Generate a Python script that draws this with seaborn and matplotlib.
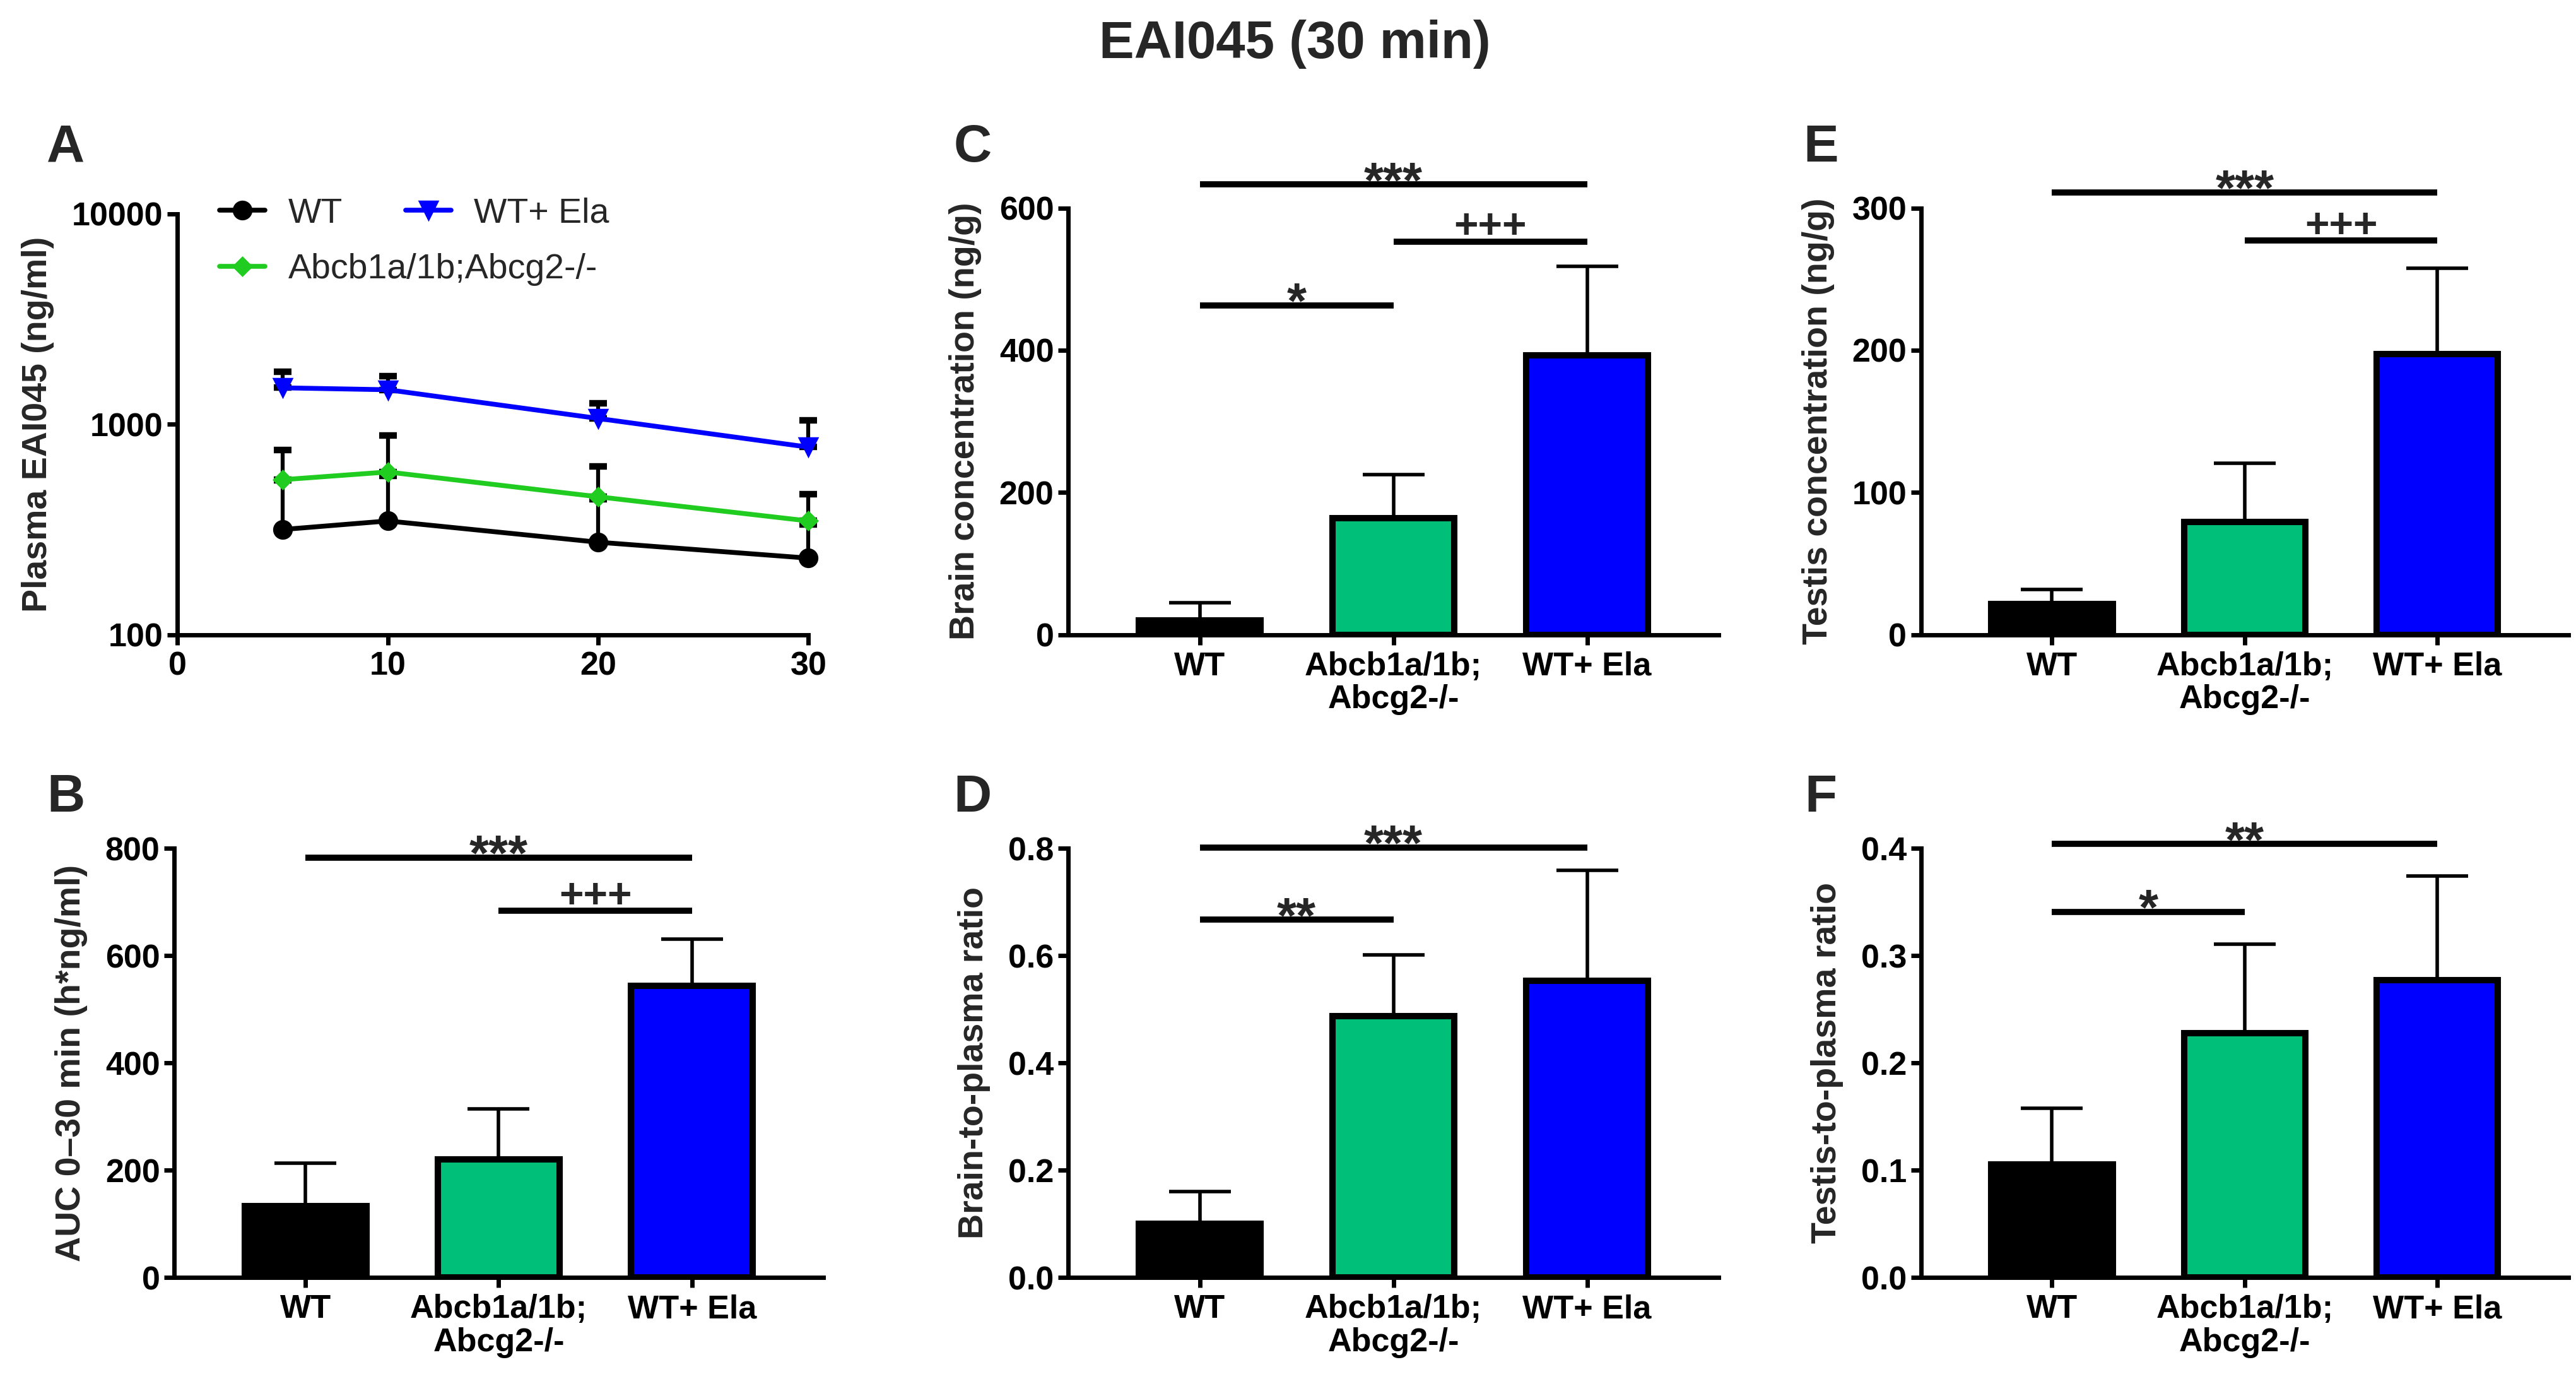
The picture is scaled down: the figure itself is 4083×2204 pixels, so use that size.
import matplotlib
matplotlib.use("Agg")
import matplotlib.pyplot as plt
import matplotlib.ticker as mticker
import seaborn as sns

# categories
groups = ["WT", "Abcb1a/1b;\nAbcg2-/-", "WT+ Ela"]
bar_colors = ["#000000", "#00BF78", "#0000FF"]

# A: plasma concentration over time (mean, upper SD)
time_min = [5, 10, 20, 30]
plasma_wt = [316, 347, 275, 231]
plasma_wt_sd = [224, 223, 165, 104]
plasma_ko = [545, 593, 452, 347]
plasma_ko_sd = [210, 288, 179, 118]
plasma_ela = [1489, 1458, 1065, 778]
plasma_ela_sd = [286, 229, 194, 265]

# B-F: bar values (mean, upper SD)
auc = [133, 220, 544]
auc_sd = [80, 95, 87]
brain = [20.5, 164, 393]
brain_sd = [24, 61, 125]
brain_ratio = [0.100, 0.487, 0.553]
brain_ratio_sd = [0.060, 0.115, 0.206]
testis = [21.7, 79.2, 197.4]
testis_sd = [10, 41.3, 60.4]
testis_ratio = [0.1055, 0.228, 0.277]
testis_ratio_sd = [0.0525, 0.083, 0.097]

# significance brackets: (from group, to group, height, label)
sig_auc = [(0, 2, 783, "***"), (1, 2, 684, "+++")]
sig_brain = [(0, 2, 633, "***"), (1, 2, 553, "+++"), (0, 1, 463, "*")]
sig_brain_ratio = [(0, 2, 0.802, "***"), (0, 1, 0.667, "**")]
sig_testis = [(0, 2, 311, "***"), (1, 2, 277, "+++")]
sig_testis_ratio = [(0, 2, 0.404, "**"), (0, 1, 0.341, "*")]

sns.set_style("ticks")
plt.rcParams["font.family"] = ["Liberation Sans", "DejaVu Sans"]
plt.rcParams["font.weight"] = "bold"
plt.rcParams["axes.labelweight"] = "bold"
plt.rcParams["axes.linewidth"] = 2
plt.rcParams["xtick.major.width"] = 2
plt.rcParams["ytick.major.width"] = 2
plt.rcParams["xtick.major.size"] = 4.5
plt.rcParams["ytick.major.size"] = 4.5
plt.rcParams["xtick.color"] = "black"
plt.rcParams["ytick.color"] = "black"
plt.rcParams["axes.edgecolor"] = "black"

W, H = 1568, 846
fig = plt.figure(figsize=(4084 / 250, 2204 / 250), dpi=250)


def rect(l, r, t, b):
    return [l / W, 1 - b / H, (r - l) / W, (b - t) / H]


def style_axes(ax, ylabel):
    sns.despine(ax=ax)
    ax.set_ylabel(ylabel, fontsize=16, labelpad=8)
    ax.tick_params(axis="y", labelsize=15, pad=2)
    ax.tick_params(axis="x", labelsize=15, pad=3)


def bar_panel(ax, vals, sds, ylabel, ymax, step, sigs, fmt=None):
    sns.barplot(x=groups, y=vals, hue=groups, palette=bar_colors, legend=False,
                saturation=1, width=0.63, edgecolor="black", linewidth=2.9, ax=ax, zorder=2)
    ax.errorbar(range(3), vals, yerr=[[0, 0, 0], sds], fmt="none", ecolor="black",
                elinewidth=1.6, capsize=14, capthick=1.6, zorder=1)
    ax.set_xlim(-0.68, 2.68)
    ax.set_ylim(0, ymax)
    n = int(round(ymax / step))
    ax.set_yticks([i * step for i in range(n + 1)])
    if fmt:
        ax.yaxis.set_major_formatter(mticker.FormatStrFormatter(fmt))
    ax.set_xlabel("")
    style_axes(ax, ylabel)
    for lab in ax.get_xticklabels():
        lab.set_linespacing(1.1)
    for x0, x1, y, txt in sigs:
        ax.plot([x0, x1], [y, y], color="black", lw=2.8, clip_on=False,
                solid_capstyle="butt")
        if "*" in txt:
            size, off = 23, -5.6
        else:
            size, off = 19, 1.5
        ax.annotate(txt, xy=((x0 + x1) / 2, y), xytext=(0, off), textcoords="offset points",
                    ha="center", va="baseline", fontsize=size, fontweight="bold",
                    annotation_clip=False)


# A: plasma curves
axA = fig.add_axes(rect(108, 492, 130, 386))
series = [
    ("WT", plasma_wt, plasma_wt_sd, "black", "o", 8),
    ("Abcb1a/1b;Abcg2-/-", plasma_ko, plasma_ko_sd, "#1FCC1F", "D", 5.5),
    ("WT+ Ela", plasma_ela, plasma_ela_sd, "#0000FF", "v", 8),
]
handles = {}
for name, vals, sds, col, mk, ms in series:
    axA.errorbar(time_min, vals, yerr=[[0] * len(vals), sds], fmt="none", ecolor="black",
                 elinewidth=1.8, capsize=4, capthick=3, zorder=1.5, clip_on=False)
    sns.lineplot(x=time_min, y=vals, color=col, marker=mk, markersize=ms,
                 markeredgecolor=col, markeredgewidth=1, linewidth=2.2,
                 ax=axA, zorder=2, clip_on=False)
    handles[name] = axA.lines[-1]
axA.set_yscale("log")
axA.set_ylim(100, 10000)
axA.set_xlim(0, 30)
axA.set_yticks([100, 1000, 10000])
axA.yaxis.set_major_formatter(mticker.FuncFormatter(lambda v, p: f"{int(v)}"))
axA.yaxis.set_minor_locator(mticker.NullLocator())
axA.set_xticks([0, 10, 20, 30])
style_axes(axA, "Plasma EAI045 (ng/ml)")
leg_kw = dict(frameon=False, borderpad=0, handlelength=1.3, handletextpad=0.65,
              prop={"weight": "normal", "size": 16}, bbox_transform=fig.transFigure,
              loc="center left")
leg1 = axA.legend([handles["WT"], handles["WT+ Ela"]], ["WT", "WT+ Ela"], ncol=2,
                  columnspacing=1.8, bbox_to_anchor=(123 / W, 1 - 130 / H), **leg_kw)
axA.add_artist(leg1)
axA.legend([handles["Abcb1a/1b;Abcg2-/-"]], ["Abcb1a/1b;Abcg2-/-"],
           bbox_to_anchor=(123 / W, 1 - 164 / H), **leg_kw)

# bar panels
axB = fig.add_axes(rect(106, 501, 516, 777))
bar_panel(axB, auc, auc_sd, "AUC 0\u201330 min (h*ng/ml)", 800, 200, sig_auc)
axC = fig.add_axes(rect(650, 1046, 126.5, 386))
bar_panel(axC, brain, brain_sd, "Brain concentration (ng/g)", 600, 200, sig_brain)
axD = fig.add_axes(rect(650, 1046, 516, 777))
bar_panel(axD, brain_ratio, brain_ratio_sd, "Brain-to-plasma ratio", 0.8, 0.2,
          sig_brain_ratio, "%.1f")
axE = fig.add_axes(rect(1169, 1563, 126.5, 386))
bar_panel(axE, testis, testis_sd, "Testis concentration (ng/g)", 300, 100, sig_testis)
axF = fig.add_axes(rect(1169, 1563, 516, 777))
bar_panel(axF, testis_ratio, testis_ratio_sd, "Testis-to-plasma ratio", 0.4, 0.1,
          sig_testis_ratio, "%.1f")

# panel letters and title
for letter, x, y in [("A", 40, 90), ("B", 40, 485), ("C", 592, 90),
                     ("D", 592, 485), ("E", 1108, 90), ("F", 1108, 485)]:
    fig.text(x / W, 1 - y / H, letter, fontsize=24, fontweight="bold",
             ha="center", va="center")
fig.text(788 / W, 1 - 27 / H, "EAI045 (30 min)", fontsize=24, fontweight="bold",
         ha="center", va="center")

fig.savefig("out.png", dpi=250, facecolor="white")
